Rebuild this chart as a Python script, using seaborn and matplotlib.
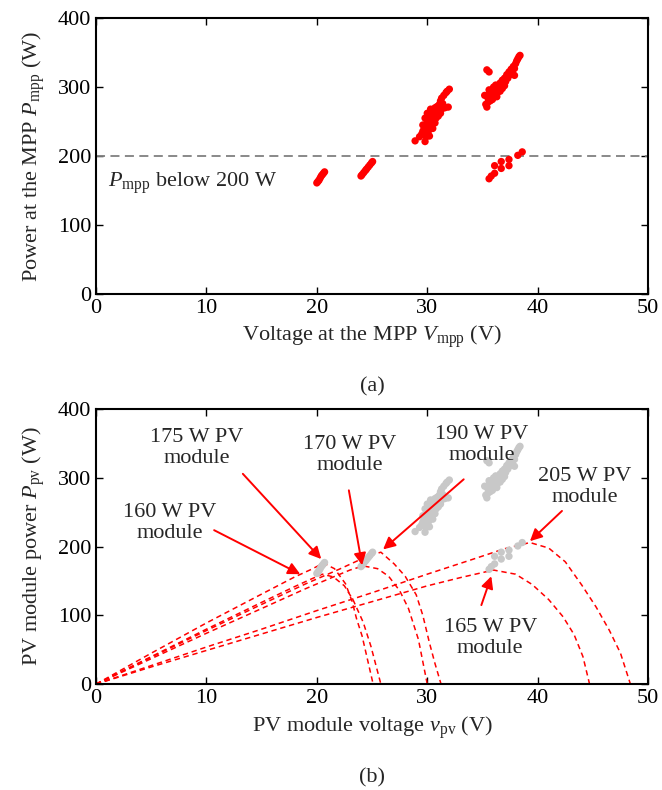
import numpy as np
import pandas as pd
import matplotlib
matplotlib.use("Agg")
import matplotlib.pyplot as plt
import seaborn as sns

# measured MPP points (voltage V, power W), grouped by cluster
mpp_20v = [(20.0, 161), (20.1, 163), (20.2, 165), (20.3, 168), (20.4, 171),
           (20.5, 173), (20.6, 175), (20.7, 177)]
mpp_24v = [(24.0, 171), (24.1, 173), (24.25, 176), (24.4, 179), (24.5, 181),
           (24.65, 184), (24.8, 187), (24.95, 190), (25.05, 192)]
mpp_30v = [(28.9, 222), (29.3, 228), (29.8, 221), (29.5, 232), (29.7, 238), (29.6, 245),
           (29.9, 242), (30.0, 250), (29.8, 255), (30.1, 247), (30.2, 255), (30.3, 260),
           (30.0, 262), (30.4, 252), (30.5, 265), (30.6, 258), (30.3, 268), (30.7, 270),
           (30.8, 262), (30.9, 272), (30.6, 250), (30.1, 236), (30.4, 244), (30.8, 255),
           (31.0, 265), (31.1, 275), (31.2, 280), (31.3, 284), (31.5, 288), (31.7, 292),
           (32.0, 297), (31.9, 271), (31.6, 270), (31.3, 268), (31.0, 258), (30.2, 229),
           (29.9, 228), (30.5, 240), (31.2, 262), (31.4, 276), (30.0, 233), (30.7, 248),
           (29.6, 236), (31.8, 294), (30.9, 268)]
mpp_37v_high = [(35.3, 275), (35.4, 271), (35.2, 288), (35.5, 284), (35.7, 280), (35.6, 290),
                (35.8, 288), (35.9, 295), (36.0, 285), (36.1, 292), (36.2, 298), (36.3, 290),
                (36.4, 302), (36.5, 296), (36.6, 306), (36.7, 300), (36.8, 310), (36.9, 305),
                (37.0, 313), (37.1, 308), (37.2, 318), (37.3, 313), (37.4, 322), (37.5, 318),
                (37.6, 326), (37.7, 323), (37.8, 330), (37.9, 327), (38.0, 334), (38.1, 338),
                (38.2, 341), (38.3, 344), (38.4, 346), (37.9, 317), (35.4, 325), (35.6, 322),
                (35.9, 282), (36.3, 286), (36.0, 300), (35.5, 278), (36.6, 294), (37.0, 302),
                (36.2, 303), (36.8, 298), (35.6, 296)]
mpp_37v_low = [(35.6, 167), (35.8, 171), (36.1, 175), (36.1, 186), (36.7, 182),
               (36.7, 192), (37.4, 186), (37.4, 195), (38.2, 201), (38.6, 206)]

# P-V curves of the six modules
curve_160_v = [0, 5, 10, 15, 18, 19.5, 20.5, 21.5, 22.5, 23.3, 24.2, 24.9, 25.8]
curve_160_p = [0, 40, 80, 119, 142, 153, 160, 156, 143, 122, 90, 55, 0]
curve_175_v = [0, 5, 10, 15, 18, 19.5, 20.6, 21.6, 22.6, 23.2, 23.6, 24.1, 24.5, 25.1]
curve_175_p = [0, 45, 89, 131, 156, 167, 176, 168, 146, 120, 95, 70, 42, 0]
curve_170_v = [0, 5, 10, 15, 19, 21.5, 23, 24.2, 25.5, 26.5, 27.5, 28.3, 29.2, 30.0]
curve_170_p = [0, 37, 74, 110, 139, 156, 166, 172, 168, 157, 136, 110, 65, 0]
curve_190_v = [0, 5, 10, 15, 19, 22, 24.3, 25.8, 27.0, 28.0, 29.0, 29.6, 30.2, 30.7, 31.25]
curve_190_p = [0, 39, 78, 116, 146, 167, 184, 192, 175, 157, 130, 100, 60, 30, 0]
curve_165_v = [0, 5, 10, 15, 20, 25, 30, 33, 36, 38, 39.5, 41, 42.3, 43.3, 44.1, 44.7]
curve_165_p = [0, 25, 49, 73, 97, 120, 143, 155, 166, 160, 145, 123, 98, 72, 40, 0]
curve_205_v = [0, 5, 10, 15, 20, 25, 30, 34, 37, 39.3, 41, 42.5, 44, 45.3, 46.5, 47.5, 48.4]
curve_205_p = [0, 27, 54, 80, 107, 133, 160, 181, 197, 206, 198, 178, 144, 112, 78, 45, 0]

curves = [(curve_160_v, curve_160_p), (curve_175_v, curve_175_p),
          (curve_170_v, curve_170_p), (curve_190_v, curve_190_p),
          (curve_165_v, curve_165_p), (curve_205_v, curve_205_p)]

# annotation: label, text centre, arrow start, arrow tip
notes = [
    ("175 W PV\nmodule", (9.1, 343), (13.3, 306), (20.4, 182)),
    ("160 W PV\nmodule", (6.7, 234), (10.7, 224), (18.5, 160)),
    ("170 W PV\nmodule", (23.0, 333), (22.9, 282), (24.1, 173)),
    ("190 W PV\nmodule", (34.9, 348), (33.3, 298), (26.0, 196)),
    ("205 W PV\nmodule", (44.3, 287), (42.2, 252), (39.3, 208)),
    ("165 W PV\nmodule", (35.7, 67), (34.9, 115), (35.8, 157)),
]

df = pd.DataFrame(mpp_20v + mpp_24v + mpp_30v + mpp_37v_high + mpp_37v_low,
                  columns=["v", "p"])

sns.set_theme(style="ticks")
plt.rcParams["font.family"] = ["Liberation Serif", "DejaVu Serif"]
plt.rcParams["mathtext.fontset"] = "custom"
plt.rcParams["mathtext.rm"] = "Liberation Serif"
plt.rcParams["mathtext.it"] = "Liberation Serif:italic"
fs = 16

fig = plt.figure(figsize=(6.62, 7.90), dpi=100)
ax1 = fig.add_axes([0.145, 0.628, 0.834, 0.349])
ax2 = fig.add_axes([0.145, 0.134, 0.834, 0.348])

# (a)
ax1.axhline(200, color="#808080", ls=(0, (5, 3)), lw=1.3, zorder=1)
sns.scatterplot(data=df, x="v", y="p", ax=ax1, color="#ff0000", s=28,
                edgecolor="none", zorder=3, clip_on=False)
ax1.text(1.1, 161, r"$P_{\mathrm{mpp}}$ below 200 W", fontsize=fs, va="center")
ax1.set_xlabel(r"Voltage at the MPP $V_{\mathrm{mpp}}$ (V)", fontsize=fs, labelpad=4)
ax1.set_ylabel(r"Power at the MPP $P_{\mathrm{mpp}}$ (W)", fontsize=fs, labelpad=8)

# (b)
for cv, cp in curves:
    sns.lineplot(x=cv, y=cp, ax=ax2, color="#ff0000", lw=1.1, sort=False,
                 linestyle=(0, (3.5, 2.5)), zorder=2)
sns.scatterplot(data=df, x="v", y="p", ax=ax2, color="#c8c8c8", s=28,
                edgecolor="none", zorder=3)
for label, txt, start, tip in notes:
    ax2.text(txt[0], txt[1], label, fontsize=fs, ha="center", va="center",
             linespacing=1.15)
    ax2.annotate("", xy=tip, xytext=start,
                 arrowprops=dict(arrowstyle="-|>", color="#ff0000", lw=1.4,
                                 mutation_scale=18, shrinkA=0, shrinkB=0))
ax2.set_xlabel(r"PV module voltage $v_{\mathrm{pv}}$ (V)", fontsize=fs, labelpad=5)
ax2.set_ylabel(r"PV module power $P_{\mathrm{pv}}$ (W)", fontsize=fs, labelpad=8)

for ax in (ax1, ax2):
    ax.set_xlim(0, 50)
    ax.set_ylim(0, 400)
    ax.set_xticks(range(0, 51, 10))
    ax.set_yticks(range(0, 401, 100))
    ax.tick_params(direction="in", top=True, right=True, length=5, width=1,
                   labelsize=fs, color="black", labelcolor="black")
    for sp in ax.spines.values():
        sp.set_linewidth(1.5)
        sp.set_color("black")

fig.text(0.562, 0.510, "(a)", fontsize=fs, ha="center", va="center")
fig.text(0.562, 0.016, "(b)", fontsize=fs, ha="center", va="center")

fig.savefig("out.png", dpi=100)
